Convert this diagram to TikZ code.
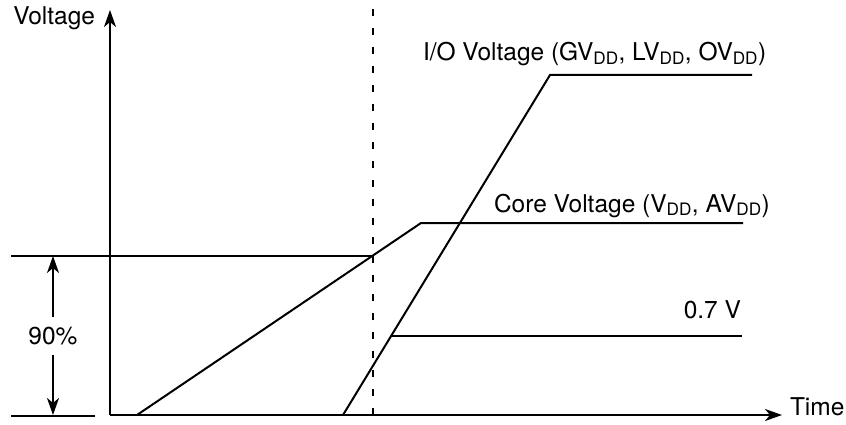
\documentclass[tikz,border=0pt]{standalone}
\usepackage{fontspec}
\setmainfont{TeX Gyre Heros}
\usetikzlibrary{arrows.meta}
\newcommand{\dd}{\textsubscript{DD}}

\begin{document}
\begin{tikzpicture}[x=1pt,y=-1pt,line width=2pt,
    every node/.style={font=\fontsize{24.5}{28}\selectfont,inner sep=0pt},
    axisarrow/.style={-{Stealth[length=17pt,width=12pt,inset=5pt]}},
    railline/.style={line width=2pt,line join=miter}]
  \useasboundingbox (0,0) rectangle (846,425);

  % Axes
  \coordinate (origin) at (110,415);
  \coordinate (ytip) at (110,10);
  \coordinate (xtip) at (782,415);
  \draw[axisarrow] (origin) -- (ytip);
  \draw[axisarrow] (origin) -- (xtip);
  \node[anchor=base east] (vlabel) at (96,25) {Voltage};
  \node[anchor=base west] (tlabel) at (789,415) {Time};

  % 90% reference
  \coordinate (refbotL) at (11,415.5);
  \coordinate (refbotR) at (95,415.5);
  \coordinate (reftopL) at (11,256);
  \coordinate (reftopR) at (372,256);
  \draw (refbotL) -- (refbotR);
  \draw (reftopL) -- (reftopR);
  \node (pct) at (53,336) {90\%};
  \coordinate (dimtop) at (53,256);
  \coordinate (dimbot) at (53,415);
  \draw[axisarrow,shorten <=9pt] (pct.north) -- (dimtop);
  \draw[axisarrow,shorten <=9pt] (pct.south) -- (dimbot);

  % dashed marker
  \coordinate (markbot) at (373,415);
  \coordinate (marktop) at (373,8);
  \draw[dash pattern=on 7pt off 12pt] (markbot) -- (marktop);

  % Core ramp
  \coordinate (core0) at (137,415);
  \coordinate (core1) at (421,223);
  \coordinate (core2) at (743,223);
  \draw[railline] (core0) -- (core1) -- (core2);
  \node[anchor=base west] (corelbl) at (493,212) {Core Voltage (V\dd, AV\dd)};

  % I/O ramp
  \coordinate (io0) at (343,415);
  \coordinate (io1) at (550,75);
  \coordinate (io2) at (752,75);
  \draw[railline] (io0) -- (io1) -- (io2);
  \node[anchor=base west] (iolbl) at (422,61) {I/O Voltage (GV\dd, LV\dd, OV\dd)};

  % 0.7 V level
  \coordinate (lvl0) at (391,336);
  \coordinate (lvl1) at (742,336);
  \draw (lvl0) -- (lvl1);
  \node[anchor=base east] (lvllbl) at (742,318) {0.7 V};
\end{tikzpicture}
\end{document}
